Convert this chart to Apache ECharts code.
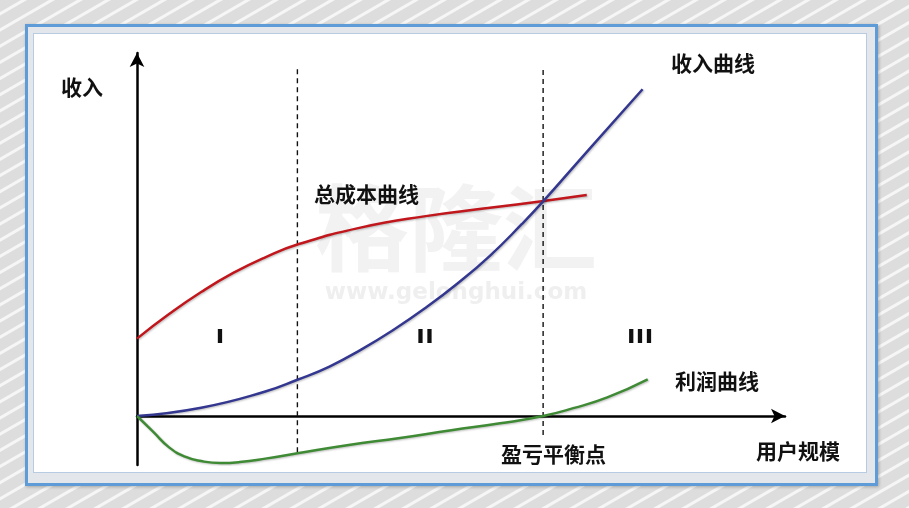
<!DOCTYPE html>
<html>
<head>
<meta charset="utf-8">
<script src="https://cdn.jsdelivr.net/npm/echarts@6/dist/echarts.min.js"></script>
<style>
  html, body { margin: 0; padding: 0; }
  body {
    width: 909px; height: 508px; overflow: hidden; position: relative;
    background: repeating-linear-gradient(150deg, #dddddd 0px, #dddddd 10px, #f6f6f6 11px, #f6f6f6 13px, #dddddd 14px);
  }
  .frame {
    position: absolute; left: 25px; top: 24px; width: 853px; height: 462px;
    box-sizing: border-box; border: 3px solid #5f9bd6; background: #e3e7ec;
    box-shadow: 1px 1px 3px rgba(0,0,0,0.25);
  }
  .sheet {
    position: absolute; left: 33px; top: 33px; width: 834px; height: 440px;
    box-sizing: border-box; border: 1px solid #b7cbe2; background: #fff;
  }
  #chart { position: absolute; left: 0; top: 0; width: 909px; height: 508px; }
</style>
</head>
<body>
<div class="frame"></div>
<div class="sheet"></div>
<div id="chart"></div>
<script>
// values (abstract units: x = user scale, y = money)
const costX    = [0, 5, 10, 15, 20, 25, 35, 45, 55, 63.4, 70.1];
const costY    = [15.8, 20.8, 25.3, 29.2, 32.4, 35.0, 38.5, 40.8, 42.5, 43.9, 45.1];
const revenueX = [0, 10, 20, 25, 30, 35, 40, 45, 50, 55, 60, 63.3, 70.7, 78.8];
const revenueY = [0, 1.7, 5.0, 7.4, 10.1, 13.6, 17.6, 22.1, 27.1, 32.7, 39.2, 43.8, 54.8, 66.7];
const profitX  = [0, 2.5, 5, 7.5, 10, 13, 16, 20, 25, 33, 41, 49, 56.6, 63.3, 68, 73.3, 79.6];
const profitY  = [0, -3.2, -6.4, -8.3, -9.2, -9.6, -9.4, -8.7, -7.6, -5.9, -4.5, -2.9, -1.5, 0, 1.6, 3.8, 7.5];
const dividerX      = [25, 63.3];
const dividerTop    = [71.4, 71.4];
const dividerBottom = [-7.4, -3.9];

const zip = (xs, ys) => xs.map((x, i) => [x, ys[i]]);
const cjk = '"Noto Sans CJK SC", "Noto Sans", sans-serif';

const chart = echarts.init(document.getElementById('chart'), null, {renderer: 'canvas'});

function curve(name, xs, ys, color) {
    return {
        name, type: 'line', smooth: 0.5, showSymbol: false, z: 5,
        data: zip(xs, ys),
        lineStyle: {color, width: 2.5, shadowColor: 'rgba(0,0,0,0.25)', shadowBlur: 2, shadowOffsetX: 1, shadowOffsetY: 1}
    };
}

const dividers = dividerX.map((x, i) => ({
    type: 'line', showSymbol: false, z: 3,
    data: [[x, dividerBottom[i]], [x, dividerTop[i]]],
    lineStyle: {color: '#111', width: 1.4, type: [5, 4]}
}));

const axisCommon = {
    type: 'value',
    axisLine: {onZero: true, symbol: ['none', 'arrow'], symbolSize: [11, 14], lineStyle: {color: '#000', width: 2.5}},
    axisTick: {show: false},
    axisLabel: {show: false},
    splitLine: {show: false}
};

function label(text, x, cy) {
    return {
        type: 'text', x, y: cy, z: 10,
        style: {text, fill: '#111', textVerticalAlign: 'middle', font: 'bold 21px ' + cjk}
    };
}

function roman(text, cx, cy) {
    return {
        type: 'text', x: cx, y: cy, z: 10,
        style: {text, fill: '#111', textAlign: 'center', textVerticalAlign: 'middle',
                font: 'bold 16px "Liberation Sans", Arial, sans-serif', stroke: '#111', lineWidth: 2}
    };
}

chart.setOption({
    animation: false,
    grid: {left: 137, right: 124, top: 53, bottom: 43},
    xAxis: Object.assign({min: 0, max: 101}, axisCommon),
    yAxis: Object.assign({min: -10, max: 74.1}, axisCommon),
    graphic: [
        {type: 'text', x: 456, y: 228, z: -10, silent: true,
         style: {text: '格隆汇', fill: '#f2f2f2', textAlign: 'center', textVerticalAlign: 'middle', font: 'bold 94px ' + cjk}},
        {type: 'text', x: 456, y: 293, z: -10, silent: true,
         style: {text: 'www.gelonghui.com', fill: '#efefef', textAlign: 'center', textVerticalAlign: 'middle', font: 'bold 23px "DejaVu Sans", sans-serif'}},
        label('收入', 61, 87),
        label('收入曲线', 671, 63),
        label('总成本曲线', 314, 194),
        label('利润曲线', 675, 381),
        label('盈亏平衡点', 501, 454),
        label('用户规模', 756, 451),
        roman('I', 220, 338),
        roman('I I', 425, 338),
        roman('I I I', 640, 338)
    ],
    series: [
        curve('总成本曲线', costX, costY, '#c0161c'),
        curve('收入曲线', revenueX, revenueY, '#33378f'),
        curve('利润曲线', profitX, profitY, '#3f8a34')
    ].concat(dividers)
});
</script>
</body>
</html>
